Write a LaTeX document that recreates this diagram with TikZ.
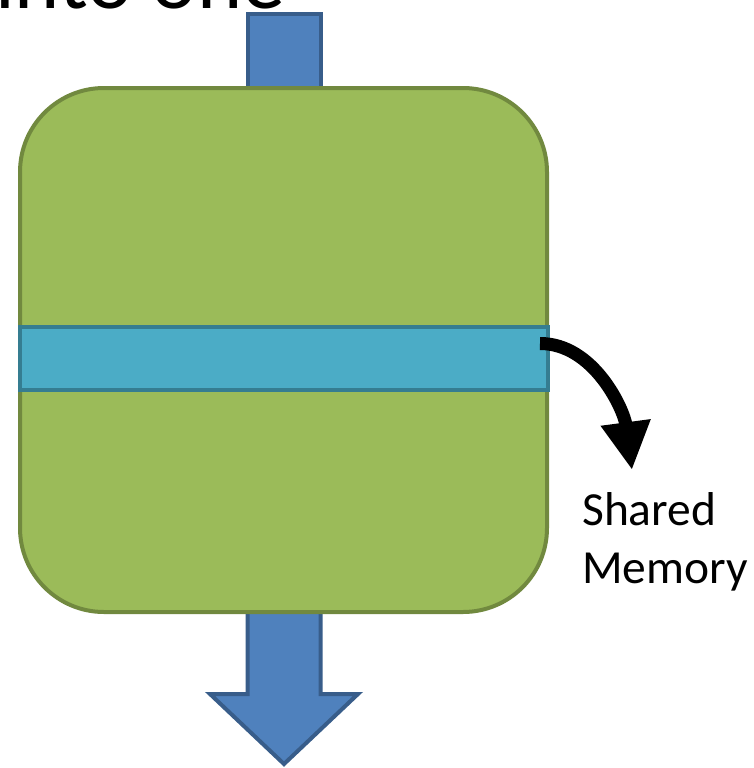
\documentclass[tikz,border=0pt]{standalone}
\usepackage{fontspec}
\setmainfont{Carlito}
\usetikzlibrary{arrows.meta}
\definecolor{gfill}{HTML}{9BBB59}
\definecolor{gline}{HTML}{71893F}
\definecolor{cfill}{HTML}{4BACC6}
\definecolor{cline}{HTML}{357D91}
\definecolor{bfill}{HTML}{4F81BD}
\definecolor{bline}{HTML}{385D8A}
\tikzset{
  bluebox/.style={fill=bfill, draw=bline, line width=4pt, line join=miter},
  greenbox/.style={fill=gfill, draw=gline, line width=4pt},
  band/.style={fill=cfill, draw=cline, line width=4pt},
  lbl/.style={anchor=base west, inner sep=0pt, font=\fontsize{47.5}{58}\selectfont}
}
\begin{document}
\begin{tikzpicture}[x=1pt,y=-1pt]
\useasboundingbox (0,0) rectangle (753,768);
\clip (0,0) rectangle (753,768);
% cut-off title
\node[anchor=base west, inner sep=0pt, font=\fontsize{86}{100}\selectfont] (title) at (-5,9) {into one};
% top input bar
\draw[bluebox] (247.5,14) rectangle (320.5,120);
% bottom output arrow
\draw[bluebox] (247.5,580) -- (247.5,694) -- (210,694) -- (284,764) -- (358,694) -- (320.5,694) -- (320.5,580) -- cycle;
% green processor block
\draw[greenbox, rounded corners=84pt] (20,88) rectangle (547,612);
% shared memory band
\draw[band] (19.5,327) rectangle (548,390);
\coordinate (src) at (540,343.5);
% label
\node[lbl] (shared) at (582,525) {Shared};
\node[lbl] (memory) at (582,583) {Memory};
% curved arrow
\draw[line width=13pt, -{Triangle[length=48pt,width=47pt]}] (src) .. controls (594,343.5) and (624,410) .. (632,470);
\end{tikzpicture}
\end{document}
